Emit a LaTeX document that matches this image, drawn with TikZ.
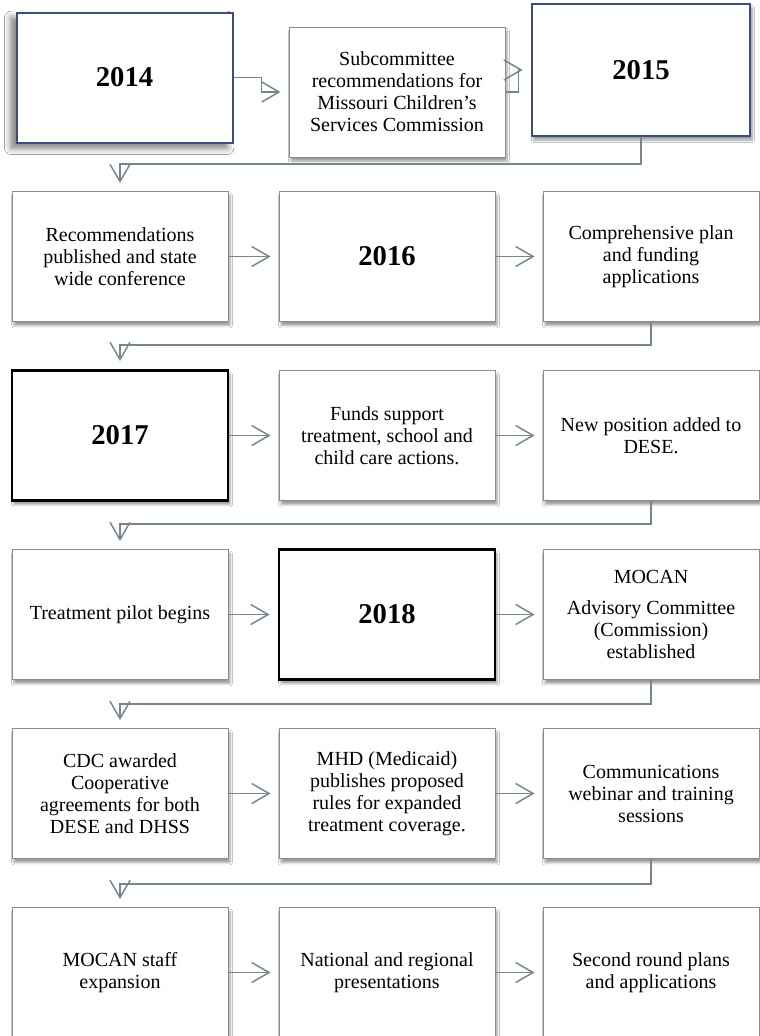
\documentclass[tikz,border=0pt]{standalone}
\usepackage{fontspec}
\setmainfont{Liberation Serif}
\usetikzlibrary{arrows.meta,shadows.blur}
\definecolor{linkgray}{HTML}{76868E}
\definecolor{boxgray}{HTML}{8C8C8C}
\definecolor{navyline}{HTML}{3E4C82}

\begin{document}
\begin{tikzpicture}[x=0.75pt,y=-0.75pt]
	\tikzstyle{box_style} = [rectangle,draw=boxgray,line width=0.7pt,fill=white,minimum width=162pt,minimum height=97.5pt,align=center,font=\fontsize{15}{16.5}\selectfont,blur shadow={shadow xshift=1.5pt,shadow yshift=-3pt,shadow blur radius=1.8pt,shadow opacity=40}]
	\tikzstyle{year_style} = [box_style,font=\fontsize{21.5}{22}\selectfont\bfseries]
	\tikzstyle{bold_style} = [year_style,draw=black,line width=2.2pt]
	\tikzstyle{navy_style} = [year_style,draw=navyline,line width=1.5pt]
	\tikzstyle{link_style} = [draw=linkgray,line width=1.1pt,-{Straight Barb[length=13pt,width=15pt,line width=1.1pt]},shorten >=6pt]
	\useasboundingbox[fill=white] (0,0) rectangle (760,1036);
	% first row
	\node[navy_style,blur shadow={shadow xshift=-4pt,shadow yshift=-4pt,shadow blur radius=5pt,shadow opacity=30}] (y2014) at (124.5,77.5) {2014};
	\node[box_style] (subcom) at (397,92) {Subcommittee\\recommendations for\\Missouri Children's\\Services Commission};
	\node[navy_style,minimum width=164pt,minimum height=99pt] (y2015) at (641,70) {2015};
	% second row
	\node[box_style] (recpub) at (120,256.5) {Recommendations\\published and state\\wide conference};
	\node[year_style] (y2016) at (387,256.5) {2016};
	\node[box_style] (plan) at (651,256.5) {Comprehensive plan\\and funding\\applications};
	% third row
	\node[bold_style] (y2017) at (120,435.5) {2017};
	\node[box_style] (funds) at (387,435.5) {Funds support\\treatment, school and\\child care actions.};
	\node[box_style] (position) at (651,435.5) {New position added to\\DESE.};
	% fourth row
	\node[box_style] (pilot) at (120,614.5) {Treatment pilot begins};
	\node[bold_style] (y2018) at (387,614.5) {2018};
	\node[box_style] (mocan) at (651,614.5) {MOCAN\\[7pt]Advisory Committee\\(Commission)\\established};
	% fifth row
	\node[box_style] (cdc) at (120,793.5) {CDC awarded\\Cooperative\\agreements for both\\DESE and DHSS};
	\node[box_style] (mhd) at (387,793.5) {MHD (Medicaid)\\publishes proposed\\rules for expanded\\treatment coverage.};
	\node[box_style] (webinar) at (651,793.5) {Communications\\webinar and training\\sessions};
	% sixth row
	\node[box_style] (staff) at (120,972.5) {MOCAN staff\\expansion};
	\node[box_style] (present) at (387,972.5) {National and regional\\presentations};
	\node[box_style] (second) at (651,972.5) {Second round plans\\and applications};
	% connectors
	\draw[link_style] (y2014.east) -- ++(28,0) |- (subcom.west);
	\draw[link_style] (subcom.east) -- ++(13,0) |- (y2015.west);
	\draw[link_style] (y2015.south) -- ++(0,27) -| (recpub.north);
	\draw[link_style] (recpub.east) -- (y2016.west);
	\draw[link_style] (y2016.east) -- (plan.west);
	\draw[link_style] (plan.south) -- ++(0,23) -| (y2017.north);
	\draw[link_style] (y2017.east) -- (funds.west);
	\draw[link_style] (funds.east) -- (position.west);
	\draw[link_style] (position.south) -- ++(0,23) -| (pilot.north);
	\draw[link_style] (pilot.east) -- (y2018.west);
	\draw[link_style] (y2018.east) -- (mocan.west);
	\draw[link_style] (mocan.south) -- ++(0,24) -| (cdc.north);
	\draw[link_style] (cdc.east) -- (mhd.west);
	\draw[link_style] (mhd.east) -- (webinar.west);
	\draw[link_style] (webinar.south) -- ++(0,25) -| (staff.north);
	\draw[link_style] (staff.east) -- (present.west);
	\draw[link_style] (present.east) -- (second.west);
\end{tikzpicture}
\end{document}
